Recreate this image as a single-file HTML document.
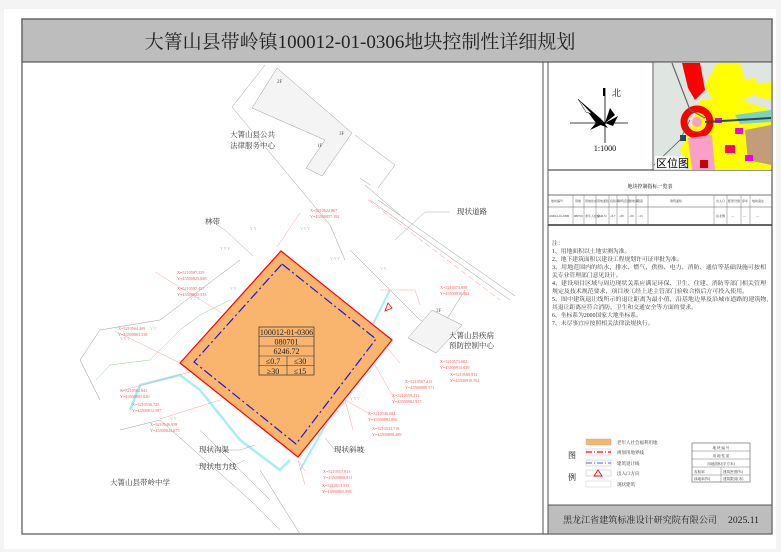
<!DOCTYPE html>
<html><head><meta charset="utf-8"><style>
html,body{margin:0;padding:0;background:#fff;}
body{width:781px;height:552px;overflow:hidden;font-family:"Liberation Serif","Noto Serif CJK SC",serif;}
</style></head><body>
<svg width="781" height="552" viewBox="0 0 781 552" xmlns="http://www.w3.org/2000/svg" font-family="Liberation Serif, Noto Serif CJK SC, serif">
<rect x="0" y="0" width="781" height="552" fill="#f4f4f4"/>
<rect x="4" y="9" width="772" height="540" fill="#fff"/>
<rect x="22" y="19" width="750" height="515" fill="#fff" stroke="#555" stroke-width="1.2"/>
<rect x="22" y="19" width="750" height="43" fill="#bdbdbd" stroke="#555" stroke-width="1.2"/>
<text x="360" y="48" font-size="19" text-anchor="middle" fill="#222">大箐山县带岭镇100012-01-0306地块控制性详细规划</text>
<line x1="543" y1="62" x2="543" y2="534" stroke="#555" stroke-width="1"/>
<line x1="548" y1="62" x2="548" y2="534" stroke="#555" stroke-width="1"/>
<rect x="548" y="505" width="224" height="29" fill="#bdbdbd" stroke="#555"/>
<text x="563" y="523" font-size="9" fill="#222" textLength="154" lengthAdjust="spacingAndGlyphs">黑龙江省建筑标准设计研究院有限公司</text>
<text x="728" y="523" font-size="9" fill="#222" textLength="31" lengthAdjust="spacingAndGlyphs">2025.11</text>

<!-- compass -->
<line x1="653" y1="62" x2="653" y2="170" stroke="#555"/>
<line x1="548" y1="170" x2="772" y2="170" stroke="#555" stroke-width="1.2"/>
<line x1="605" y1="88" x2="605" y2="143" stroke="#000" stroke-width="0.8"/>
<line x1="570" y1="123" x2="628" y2="123" stroke="#000" stroke-width="0.8"/>
<polygon points="603,88 605,88 605,96 603,96" fill="#000"/>
<text x="612" y="96" font-size="9">北</text>
<polygon points="578,99 600,118 608,128 596,123" fill="#000"/>
<polygon points="578,99 592,114 586,112" fill="#fff" stroke="#000" stroke-width="0.5"/>
<polygon points="605,123 610,108 615,115" fill="#000"/>
<polygon points="605,123 618,116 613,126" fill="#000"/>
<polygon points="605,123 590,130 600,118" fill="#000"/>
<text x="605" y="151" font-size="8" text-anchor="middle">1:1000</text>

<!-- location map -->
<rect x="654" y="63" width="117" height="107" fill="#dfe6e2"/>
<path d="M682,63 L700,63 L705,90 L695,100 L688,88 Z" fill="#f00"/>
<path d="M717,63 L740,63 L745,80 L755,78 L760,90 L745,100 L720,110 L712,100 L705,85 Z" fill="#ff0"/>
<path d="M700,100 L740,100 L771,110 L771,170 L690,170 L680,150 L690,130 Z" fill="#ff0"/>
<path d="M752,85 L771,82 L771,100 L755,96 Z" fill="#ff0"/>
<path d="M735,115 L771,110 L771,122 L740,124 Z" fill="#7ed2c0"/>
<circle cx="697" cy="122" r="13" fill="none" stroke="#f00" stroke-width="7"/>
<circle cx="697" cy="122" r="5" fill="#f8a0c8"/>
<path d="M688,138 L712,135 L715,170 L692,170 Z" fill="#f8a0c8"/>
<path d="M745,130 L771,125 L771,165 L748,160 Z" fill="#c39c7a"/>
<rect x="725" y="145" width="10" height="8" fill="#f06"/>
<rect x="735" y="128" width="8" height="6" fill="#e0e"/>
<rect x="715" y="118" width="7" height="5" fill="#e0e"/>
<rect x="745" y="155" width="8" height="6" fill="#e0e"/>
<rect x="700" y="160" width="8" height="8" fill="#c00"/>
<rect x="680" y="135" width="6" height="6" fill="#246"/>
<path d="M672,63 L690,110 L705,118" fill="none" stroke="#666" stroke-width="1.2"/>
<path d="M705,122 L771,118" fill="none" stroke="#2a4a5a" stroke-width="2"/>
<path d="M654,165 L680,140 L690,120" fill="none" stroke="#555" stroke-width="0.8"/>
<rect x="655" y="156" width="30" height="13" fill="#fff" opacity="0.8"/>
<text x="656" y="167" font-size="11" font-family="Liberation Sans, Noto Sans CJK SC, sans-serif">区位图</text>

<!-- control table -->
<text x="650" y="188" font-size="5" text-anchor="middle">地块控制指标一览表</text>
<rect x="548" y="195" width="224" height="30" fill="none" stroke="#555" stroke-width="0.8"/>
<line x1="548" y1="207" x2="772" y2="207" stroke="#555" stroke-width="0.5"/>
<line x1="548" y1="225" x2="772" y2="225" stroke="#333" stroke-width="1.5"/>
<g stroke="#555" stroke-width="0.4">
<line x1="573" y1="195" x2="573" y2="225"/><line x1="584" y1="195" x2="584" y2="225"/><line x1="596" y1="195" x2="596" y2="225"/><line x1="609" y1="195" x2="609" y2="225"/><line x1="617" y1="195" x2="617" y2="225"/><line x1="628" y1="195" x2="628" y2="225"/><line x1="636" y1="195" x2="636" y2="225"/><line x1="648" y1="195" x2="648" y2="225"/><line x1="714" y1="195" x2="714" y2="225"/><line x1="727" y1="195" x2="727" y2="225"/><line x1="741" y1="195" x2="741" y2="225"/><line x1="750" y1="195" x2="750" y2="225"/>
</g>
<g font-size="3" fill="#333">
<text x="551" y="202">地块编号</text><text x="575" y="202">用地</text><text x="585" y="202">用地性质</text><text x="597" y="202">用地面积</text><text x="610" y="202">容积率</text><text x="618" y="202">建筑密度</text><text x="629" y="202">绿地率</text><text x="637" y="202">限高</text><text x="670" y="202">建筑面积</text><text x="716" y="202">出入口</text><text x="728" y="202">配套设施</text><text x="742" y="202">停车</text><text x="752" y="202">地块备注</text>
<text x="549" y="217">100012-01-0306</text><text x="574" y="217">080701</text><text x="585" y="217">老年人社会</text><text x="597" y="217">6246.72</text><text x="610" y="217">≤0.7</text><text x="619" y="217">≤30</text><text x="629" y="217">≥30</text><text x="638" y="217">≤15</text><text x="716" y="217">东北侧</text><text x="731" y="217">—</text><text x="743" y="217">—</text><text x="756" y="217">—</text>
</g>
<!-- notes -->
<g font-size="5.8" fill="#333">
<text x="552" y="245">注：</text>
<text x="552" y="253">1、用地面积以土地实测为准。</text>
<text x="552" y="261">2、地下建筑面积以建设工程规划许可证审批为准。</text>
<text x="552" y="269" textLength="214" lengthAdjust="spacingAndGlyphs">3、用地范围内的给水、排水、燃气、供热、电力、消防、通信等基础设施可按相</text>
<text x="552" y="277">关专业管理部门意见设计。</text>
<text x="552" y="285" textLength="214" lengthAdjust="spacingAndGlyphs">4、建设项目区域与周边现状关系应满足环保、卫生、住建、消防等部门相关管理</text>
<text x="552" y="293" textLength="196" lengthAdjust="spacingAndGlyphs">规定及技术规范要求，项目竣工经上述主管部门验收合格后方可投入使用。</text>
<text x="552" y="301" textLength="216" lengthAdjust="spacingAndGlyphs">5、图中建筑退让线所示的退让距离为最小值，沿基地边界及沿城市道路的建筑物,</text>
<text x="552" y="309" textLength="145" lengthAdjust="spacingAndGlyphs">其退让距离应符合消防、卫生和交通安全等方面的要求。</text>
<text x="552" y="317">6、坐标系为2000国家大地坐标系。</text>
<text x="552" y="325">7、未尽事宜应按照相关法律法规执行。</text>
</g>
<!-- legend -->
<text x="568" y="458" font-size="8">图</text>
<text x="568" y="480" font-size="8">例</text>
<rect x="586" y="439" width="25" height="6" fill="#f9b46e" stroke="#aaa" stroke-width="0.4"/>
<rect x="586" y="449" width="25" height="6" fill="#fff" stroke="#aaa" stroke-width="0.4"/>
<line x1="586" y1="452" x2="611" y2="452" stroke="#f00" stroke-width="1.3" stroke-dasharray="6,2,1,2"/>
<rect x="586" y="460" width="25" height="6" fill="#fff" stroke="#aaa" stroke-width="0.4"/>
<line x1="586" y1="463" x2="611" y2="463" stroke="#7a7af5" stroke-width="1.3" stroke-dasharray="6,2,1,2"/>
<rect x="586" y="470" width="25" height="6" fill="#fff" stroke="#aaa" stroke-width="0.4"/>
<polygon points="598,470 594,476 602,476" fill="none" stroke="#f00" stroke-width="0.9"/>
<rect x="586" y="481" width="25" height="6" fill="#fff" stroke="#bbb" stroke-width="0.4"/>
<g font-size="4.5" fill="#333"><text x="617" y="444">老年人社会福利用地</text><text x="617" y="454">规划用地界线</text><text x="617" y="465">建筑退让线</text><text x="617" y="475">出入口方向</text><text x="617" y="486">现状建筑</text></g>
<rect x="692" y="443" width="58" height="39" fill="#fff" stroke="#555" stroke-width="0.6"/>
<g stroke="#555" stroke-width="0.4"><line x1="692" y1="451" x2="750" y2="451"/><line x1="692" y1="459" x2="750" y2="459"/><line x1="692" y1="467" x2="750" y2="467"/><line x1="692" y1="475" x2="750" y2="475"/><line x1="721" y1="467" x2="721" y2="482"/></g>
<g font-size="3.6" fill="#333"><text x="721" y="449" text-anchor="middle">地 块 编 号</text><text x="721" y="457" text-anchor="middle">用 地 性 质</text><text x="721" y="465" text-anchor="middle">用地面积(平方米)</text><text x="694" y="473">容积率</text><text x="723" y="473">建筑密度(%)</text><text x="694" y="480">绿地率(%)</text><text x="723" y="480">建筑限高(米)</text></g>

<!-- MAP -->
<g fill="none" stroke="#999" stroke-width="0.5">
<path d="M265,65 L232,107 L330,225 L345,260"/>
<path d="M277,68 L352,133 L322,176 L306,168 L325,140 L252,108 Z" fill="#f4f4f4"/>
<path d="M355,135 L395,165 L378,188"/>
<path d="M360,178 L370,185 M365,185 L400,215"/>
<path d="M370,200 L510,300 M378,200 L515,296"/>
<path d="M350,250 L420,320 L440,330 L465,290"/>
<path d="M100,400 L80,360 L100,330 L160,320 L200,290 L240,260"/>
<path d="M120,430 L160,420 L250,500 L280,530"/>
<path d="M200,430 L270,500 M260,470 L300,534"/>
</g>
<path d="M368,200 L500,300" stroke="#f88" stroke-width="0.5" stroke-dasharray="6,3" fill="none"/>
<path d="M130,410 L140,385 L180,375 L200,390 L240,440 L280,470 L290,460" fill="none" stroke="#a7eef2" stroke-width="2.5"/>
<path d="M390,290 L370,330 L340,400 L300,470" fill="none" stroke="#a7eef2" stroke-width="2"/>
<path d="M96,380 L110,365 L150,360 L180,330 L200,315 L230,300" fill="none" stroke="#9c9" stroke-width="0.5"/>
<path d="M432,310 L462,325 L436,353 L408,338 Z" fill="#f4f4f4" stroke="#999" stroke-width="0.5"/>
<g fill="#bbb" font-size="4"><text x="120" y="340">Y Y Y</text><text x="150" y="330">Y Y</text><text x="190" y="300">Y Y Y</text><text x="230" y="290">Y Y</text><text x="220" y="250">Y Y Y</text><text x="250" y="230">Y Y</text><text x="300" y="230">Y Y Y</text><text x="330" y="260">Y Y Y</text><text x="380" y="270">Y Y</text><text x="170" y="420">Y Y</text><text x="240" y="400">Y Y</text><text x="350" y="400">Y Y Y</text></g>
<polygon points="281,251 392,340 298,457 180,363" fill="#f9b46e" stroke="#f00" stroke-width="1.2"/>
<polygon points="282,264 376,339 296,444 194,362" fill="none" stroke="#1a1ae0" stroke-width="1.2" stroke-dasharray="10,3,2,3"/>
<polygon points="388,303 385,311 392,308" fill="none" stroke="#f00" stroke-width="0.8"/>
<rect x="259" y="327" width="55" height="48" fill="none" stroke="#333" stroke-width="0.7"/>
<g stroke="#333" stroke-width="0.6"><line x1="259" y1="336.5" x2="314" y2="336.5"/><line x1="259" y1="346" x2="314" y2="346"/><line x1="259" y1="356" x2="314" y2="356"/><line x1="259" y1="365.5" x2="314" y2="365.5"/><line x1="287" y1="356" x2="287" y2="375"/></g>
<g font-size="8" fill="#222" text-anchor="middle"><text x="286.5" y="335">100012-01-0306</text><text x="286.5" y="344.5">080701</text><text x="286.5" y="354">6246.72</text><text x="273" y="364">≤0.7</text><text x="300" y="364">≤30</text><text x="273" y="374">≥30</text><text x="300" y="374">≤15</text></g>
<g fill="none" stroke="#aaa" stroke-width="0.5">
<path d="M210,220 L225,230 L253,256"/><path d="M450,212 L425,212 L395,240"/><path d="M325,438 L335,450 L365,450"/><path d="M255,445 L240,450 L205,450"/><path d="M245,460 L235,465 L195,465"/>
</g>
<g fill="none" stroke="#f88" stroke-width="0.4">
<path d="M300,213 L277,247"/><path d="M380,290 L415,290 L420,305"/><path d="M155,272 L222,313"/><path d="M115,331 L180,363"/><path d="M120,391 L190,372"/><path d="M160,419 L220,400"/><path d="M400,363 L385,345"/><path d="M395,400 L375,365"/><path d="M370,414 L345,400"/><path d="M353,430 L345,400"/><path d="M305,471 L298,460"/><path d="M305,485 L298,460"/>
</g>
<g font-size="7.5" fill="#333">
<text x="205" y="224">林带</text><text x="457" y="214">现状道路</text>
<text x="449" y="338">大箐山县疾病</text><text x="449" y="348">预防控制中心</text>
<text x="334" y="452">现状斜坡</text><text x="199" y="452">现状沟渠</text><text x="199" y="469">现状电力线</text>
<text x="110" y="485">大箐山县带岭中学</text>
<text x="230" y="137">大箐山县公共</text><text x="230" y="148">法律服务中心</text>
</g>
<g font-size="5" fill="#555"><text x="277" y="83">2F</text><text x="339" y="135">3F</text><text x="317" y="147">1F</text><text x="436" y="312">3F</text></g>
<g font-size="4.2" fill="#f55">
<text x="310" y="212">X=5210622.867</text><text x="310" y="218">Y=43500857.192</text>
<text x="177" y="274">X=5210587.229</text><text x="177" y="280">Y=43500825.868</text>
<text x="177" y="290">X=5210587.457</text><text x="177" y="296">Y=43500825.533</text>
<text x="118" y="330">X=5210564.209</text><text x="118" y="336">Y=43500803.338</text>
<text x="120" y="392">X=5210562.845</text><text x="120" y="398">Y=43500805.020</text>
<text x="132" y="406">X=5210556.725</text><text x="132" y="412">Y=43500812.587</text>
<text x="150" y="426">X=5210546.958</text><text x="150" y="432">Y=43500824.675</text>
<text x="440" y="289">X=5210573.998</text><text x="440" y="295">Y=43500916.462</text>
<text x="440" y="363">X=5210571.602</text><text x="440" y="369">Y=43500913.029</text>
<text x="450" y="376">X=5210568.912</text><text x="450" y="382">Y=43500910.762</text>
<text x="405" y="383">X=5210567.415</text><text x="405" y="389">Y=43500909.571</text>
<text x="392" y="397">X=5210559.211</text><text x="392" y="403">Y=43500902.937</text>
<text x="368" y="415">X=5210546.684</text><text x="368" y="421">Y=43500892.896</text>
<text x="372" y="430">X=5210543.719</text><text x="372" y="436">Y=43500890.489</text>
<text x="323" y="473">X=5210517.813</text><text x="323" y="479">Y=43500868.811</text>
<text x="322" y="487">X=5210513.533</text><text x="322" y="493">Y=43500865.998</text>
</g>
</svg>
</body></html>
